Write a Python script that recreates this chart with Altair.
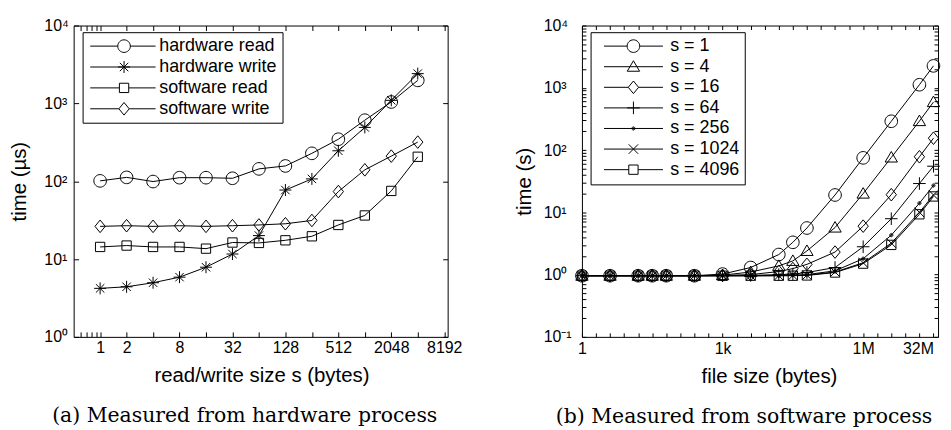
import altair as alt
import pandas as pd

# ---------------- panel (a): hardware process ----------------
sizes_a = [1, 2, 4, 8, 16, 32, 64, 128, 256, 512, 1024, 2048, 4096]
hw_read = [101, 112, 99, 111, 111, 109, 144, 157, 228, 346, 608, 1042, 1974]
hw_write = [4.2, 4.4, 4.96, 5.85, 7.85, 11.6, 20, 77, 107, 246, 491, 1094, 2410]
sw_read = [14.3, 14.9, 14.3, 14.3, 13.6, 16.3, 16.1, 17.4, 19.6, 27.4, 36.3, 75, 206]
sw_write = [26.3, 26.8, 26.3, 26.8, 26.3, 26.8, 27.4, 28.4, 31.3, 73.6, 140, 210, 318]
names_a = ["hardware read", "hardware write", "software read", "software write"]
values_a = [hw_read, hw_write, sw_read, sw_write]
kinds_a = ["circle", "star", "square", "diamond"]

ticks_a_x = [0.6, 0.7, 0.8, 0.9, 1, 2, 4, 8, 16, 32, 64, 128, 256, 512, 1024, 2048, 4096, 8192]
labels_a_x = [1, 2, 8, 32, 128, 512, 2048, 8192]
ticks_a_y = [1, 10, 100, 1000, 10000]

# ---------------- panel (b): software process ----------------
sizes_b = [1, 4, 16, 32, 64, 256, 1024, 4096, 16384, 32768, 65536, 262144,
           1048576, 4194304, 16777216, 33554432]
s1 = [0.96, 0.96, 0.96, 0.96, 0.96, 0.96, 1.02, 1.3, 2.1, 3.3, 5.6, 19, 75, 290, 1120, 2250]
s4 = [0.96, 0.96, 0.96, 0.96, 0.96, 0.96, 0.98, 1.1, 1.38, 1.66, 2.4, 5.7, 20, 76, 292, 590]
s16 = [0.96, 0.96, 0.96, 0.96, 0.96, 0.96, 0.97, 1.0, 1.12, 1.25, 1.46, 2.3, 6.0, 19.2, 78, 155]
s64 = [0.96, 0.96, 0.96, 0.96, 0.96, 0.96, 0.96, 0.97, 1.0, 1.02, 1.08, 1.3, 2.8, 7.9, 29, 55]
s256 = [0.96, 0.96, 0.96, 0.96, 0.96, 0.96, 0.96, 0.96, 0.97, 0.98, 1.0, 1.15, 1.8, 4.3, 14, 27]
s1024 = [0.96, 0.96, 0.96, 0.96, 0.96, 0.96, 0.96, 0.96, 0.96, 0.97, 0.98, 1.1, 1.55, 3.2, 10, 19]
s4096 = [0.96, 0.96, 0.96, 0.96, 0.96, 0.96, 0.96, 0.96, 0.96, 0.96, 0.97, 1.08, 1.5, 3.0, 9.3, 18]
names_b = ["s = 1", "s = 4", "s = 16", "s = 64", "s = 256", "s = 1024", "s = 4096"]
values_b = [s1, s4, s16, s64, s256, s1024, s4096]
kinds_b = ["circle", "triangle", "diamond", "plus", "dot", "cross", "square"]

ticks_b_x = [2 ** k for k in range(26)]
labels_b_x = {1: "1", 1024: "1k", 1048576: "1M", 33554432: "32M"}
ticks_b_y = [m * d for d in (0.1, 1, 10, 100, 1000) for m in range(1, 10)] + [10000]
ticks_b_y = [round(v, 6) for v in ticks_b_y]

decade_labels = [(0.1, "10\u207b\u00b9"), (1, "10\u2070"), (10, "10\u00b9"),
                 (100, "10\u00b2"), (1000, "10\u00b3"), (10000, "10\u2074")]

FONT = "Liberation Sans"
SERIF = "DejaVu Serif"
TICKFS = 16
TITLEFS = 20.5
LEGFS = 18


def long_df(sizes, names, values):
    rows = []
    for n, vals in zip(names, values):
        for s, v in zip(sizes, vals):
            rows.append({"size": s, "time": v, "series": n})
    return pd.DataFrame(rows)


def num(v):
    return f"{v:.3f}"


def marker(kind, cx=0.0):
    if kind == "circle":
        r = 1.0
        return (f"M{num(cx - r)},0A{r},{r} 0 1,1 {num(cx + r)},0"
                f"A{r},{r} 0 1,1 {num(cx - r)},0Z")
    if kind == "square":
        a = 0.74
        return (f"M{num(cx - a)},{-a}L{num(cx + a)},{-a}L{num(cx + a)},{a}"
                f"L{num(cx - a)},{a}Z")
    if kind == "diamond":
        w, h = 0.82, 1.0
        return f"M{num(cx)},{-h}L{num(cx + w)},0L{num(cx)},{h}L{num(cx - w)},0Z"
    if kind == "triangle":
        return (f"M{num(cx)},-0.95L{num(cx + 0.98)},0.72L{num(cx - 0.98)},0.72Z")
    if kind == "star":
        r, d = 0.95, 0.67
        return (f"M{num(cx - r)},0L{num(cx + r)},0M{num(cx)},{-r}L{num(cx)},{r}"
                f"M{num(cx - d)},{-d}L{num(cx + d)},{d}M{num(cx - d)},{d}L{num(cx + d)},{-d}")
    if kind == "plus":
        r = 1.0
        return f"M{num(cx - r)},0L{num(cx + r)},0M{num(cx)},{-r}L{num(cx)},{r}"
    if kind == "cross":
        r = 0.75
        return (f"M{num(cx - r)},{-r}L{num(cx + r)},{r}"
                f"M{num(cx - r)},{r}L{num(cx + r)},{-r}")
    if kind == "dot":
        out = ""
        for r in (0.25, 0.1):
            out += (f"M{num(cx - r)},0A{r},{r} 0 1,1 {num(cx + r)},0"
                    f"A{r},{r} 0 1,1 {num(cx - r)},0Z")
        return out
    raise ValueError(kind)


GAP = {"circle": 1.0, "square": 0.74, "diamond": 0.82}


def legend_symbol(kind, x0, x1, cx):
    g = GAP.get(kind)
    if g is None:
        line = f"M{num(x0)},0L{num(x1)},0"
    else:
        line = f"M{num(x0)},0L{num(cx - g)},0M{num(cx + g)},0L{num(x1)},0"
    return line + marker(kind, cx)


def ylabel_expr():
    expr = "''"
    for v, t in reversed(decade_labels):
        expr = f"datum.value == {v} ? '{t}' : " + expr
    return expr


def xlabel_expr_a():
    arr = ",".join(str(v) for v in labels_a_x)
    return f"indexof([{arr}], datum.value) >= 0 ? format(datum.value, 'd') : ''"


def xlabel_expr_b():
    expr = "''"
    for v, t in reversed(list(labels_b_x.items())):
        expr = f"datum.value == {v} ? '{t}' : " + expr
    return expr


SYM = 160


def panel(df, names, kinds, leg_syms, xscale, yscale, xaxis, yaxis, tick, legend,
          w, h, caption):
    base = alt.Chart(df)
    lines = base.mark_line(color="black", strokeWidth=1).encode(
        x=alt.X("size:Q", scale=xscale, axis=xaxis),
        y=alt.Y("time:Q", scale=yscale, axis=yaxis),
        detail="series:N",
    )
    pts = base.mark_point(color="black", strokeWidth=1, size=SYM, filled=False,
                          opacity=1).encode(
        x=alt.X("size:Q", scale=xscale, axis=None),
        y=alt.Y("time:Q", scale=yscale, axis=None),
        shape=alt.Shape("series:N",
                        scale=alt.Scale(domain=names, range=[marker(k) for k in kinds]),
                        legend=None),
    )
    top_axis = alt.Axis(orient="top", values=xaxis.values, labels=False, title=None,
                        offset=-tick, tickSize=tick, domain=False, grid=False,
                        tickColor="black")
    right_axis = alt.Axis(orient="right", values=yaxis.values, labels=False, title=None,
                          offset=-tick, tickSize=tick, domain=False, grid=False,
                          tickColor="black")
    mirror = base.mark_point(color="black", strokeWidth=1, size=SYM,
                             filled=False).encode(
        x=alt.X("size:Q", scale=xscale, axis=top_axis),
        y=alt.Y("time:Q", scale=yscale, axis=right_axis),
        shape=alt.Shape("series:N", scale=alt.Scale(domain=names, range=leg_syms),
                        legend=legend),
    ).transform_filter("false")
    return alt.layer(lines, pts, mirror).resolve_scale(
        shape="independent").resolve_axis(x="independent", y="independent").properties(
        width=w, height=h,
        title=alt.TitleParams(caption, orient="bottom", anchor="middle", dx=-16,
                              offset=20, font=SERIF, fontSize=20.5,
                              fontWeight="normal", color="black"))


U = (SYM ** 0.5) / 2.0

# ---- panel (a) ----
wa, ha = 376, 313
tick_a = 5
xaxis_a = alt.Axis(orient="bottom", values=ticks_a_x, labelExpr=xlabel_expr_a(),
                   offset=-tick_a, tickSize=tick_a, domain=False, grid=False,
                   labelPadding=3, labelFont=FONT, labelFontSize=TICKFS, labelColor="black",
                   tickColor="black", labelOverlap=False,
                   title="read/write size s (bytes)", titleFont=FONT, titleFontSize=TITLEFS,
                   titleFontWeight="normal", titleColor="black",
                   titleX=188.8, titleY=50, titleBaseline="alphabetic", titleAlign="center")
yaxis_a = alt.Axis(orient="left", values=ticks_a_y, labelExpr=ylabel_expr(),
                   offset=-tick_a, tickSize=tick_a, domain=False, grid=False,
                   labelAlign="left", labelBaseline="middle", labelPadding=30,
                   labelFont=FONT, labelFontSize=TICKFS, labelColor="black",
                   tickColor="black", labelOverlap=False,
                   title="time (\u00b5s)", titleFont=FONT, titleFontSize=TITLEFS,
                   titleFontWeight="normal", titleColor="black", titleAngle=270,
                   titleX=-53.5, titleY=ha / 2, titleBaseline="alphabetic",
                   titleAlign="center")
xs_a = alt.Scale(type="log", base=2, domain=[0.5, 8960], nice=False)
ys_a = alt.Scale(type="log", domain=[1, 10000], nice=False)
x0a = -1.0
leg_a = [legend_symbol(k, x0a, x0a + 65.7 / U, x0a + 34.0 / U) for k in kinds_a]
legend_a = alt.Legend(orient="none", legendX=9, legendY=6.7, title=None, padding=5,
                      strokeColor="black", fillColor="white", cornerRadius=0,
                      labelFont=FONT, labelFontSize=LEGFS, labelColor="black",
                      labelOffset=54, rowPadding=3, symbolSize=SYM,
                      symbolStrokeWidth=1, symbolStrokeColor="black",
                      symbolFillColor="transparent", symbolOpacity=1, labelLimit=400)
chart_a = panel(long_df(sizes_a, names_a, values_a), names_a, kinds_a, leg_a,
                xs_a, ys_a, xaxis_a, yaxis_a, tick_a, legend_a, wa, ha,
                "(a) Measured from hardware process")

# ---- panel (b) ----
wb, hb = 358, 313
tick_b = 4
xaxis_b = alt.Axis(orient="bottom", values=ticks_b_x, labelExpr=xlabel_expr_b(),
                   offset=-tick_b, tickSize=tick_b, domain=False, grid=False,
                   labelPadding=4, labelFont=FONT, labelFontSize=TICKFS, labelColor="black",
                   tickColor="black", labelOverlap=False,
                   labelAlign={"condition": {"test": "datum.value > 10000000",
                                             "value": "right"}, "value": "center"},
                   title="file size (bytes)", titleFont=FONT, titleFontSize=TITLEFS,
                   titleFontWeight="normal", titleColor="black",
                   titleX=188, titleY=50, titleBaseline="alphabetic", titleAlign="center")
yaxis_b = alt.Axis(orient="left", values=ticks_b_y, labelExpr=ylabel_expr(),
                   offset=-tick_b, tickSize=tick_b, domain=False, grid=False,
                   labelAlign="left", labelBaseline="middle", labelPadding=39,
                   labelFont=FONT, labelFontSize=TICKFS, labelColor="black",
                   tickColor="black", labelOverlap=False,
                   title="time (s)", titleFont=FONT, titleFontSize=TITLEFS,
                   titleFontWeight="normal", titleColor="black", titleAngle=270,
                   titleX=-55.5, titleY=hb / 2, titleBaseline="alphabetic",
                   titleAlign="center")
xs_b = alt.Scale(type="log", domain=[1, 42000000], nice=False)
ys_b = alt.Scale(type="log", domain=[0.1, 10000], nice=False)
x0b = -1.0 + 5.8 / U
leg_b = [legend_symbol(k, x0b, x0b + 59.3 / U, x0b + 29.6 / U) for k in kinds_b]
legend_b = alt.Legend(orient="none", legendX=8.7, legendY=6.7, title=None, padding=5,
                      strokeColor="black", fillColor="white", cornerRadius=0,
                      labelFont=FONT, labelFontSize=LEGFS, labelColor="black",
                      labelOffset=57, rowPadding=2.7, symbolSize=SYM,
                      symbolStrokeWidth=1, symbolStrokeColor="black",
                      symbolFillColor="transparent", symbolOpacity=1, labelLimit=400)
chart_b = panel(long_df(sizes_b, names_b, values_b), names_b, kinds_b, leg_b,
                xs_b, ys_b, xaxis_b, yaxis_b, tick_b, legend_b, wb, hb,
                "(b) Measured from software process")

chart = alt.hconcat(chart_a, chart_b, spacing=135, bounds="flush").configure_view(
    stroke="black", strokeWidth=1).properties(
    padding={"left": 1, "top": 7.5, "right": 0, "bottom": 0},
    background="white")

chart.save("out.html", embed_options={"renderer": "svg", "actions": False})
